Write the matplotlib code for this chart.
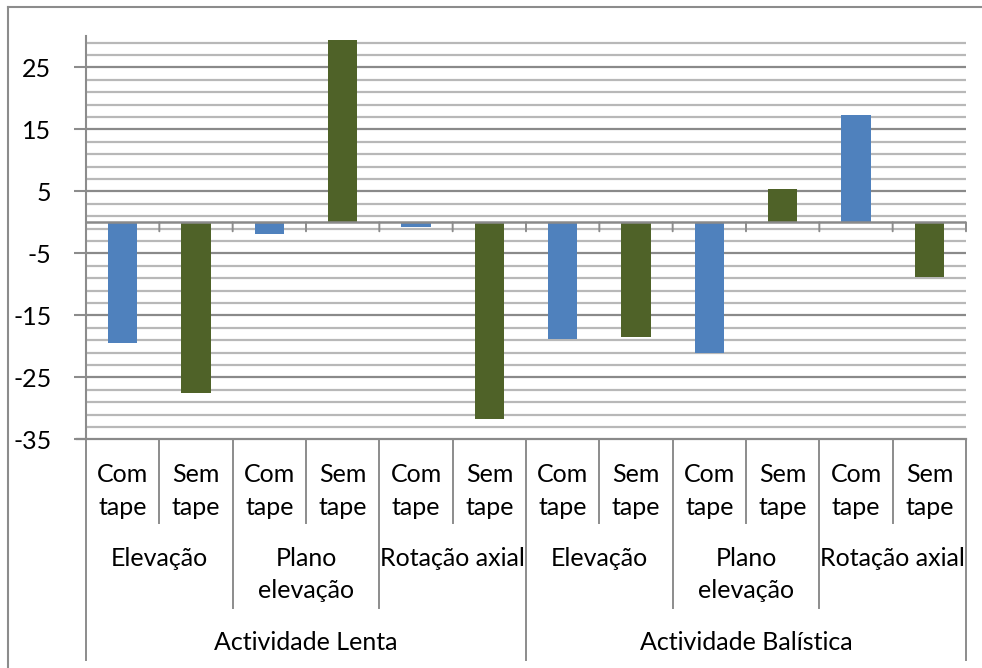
import matplotlib
matplotlib.use("Agg")
import matplotlib.pyplot as plt
from matplotlib.lines import Line2D
import matplotlib.transforms as mtransforms

plt.rcParams['font.family'] = ['Lato', 'DejaVu Sans']

# ---- data ----
activities = ["Actividade Lenta", "Actividade Balística"]
movements = [["Elevação"], ["Plano", "elevação"], ["Rotação axial"]]
conditions = [["Com", "tape"], ["Sem", "tape"]]
values = [-19.5, -27.5, -1.9, 29.4, -0.8, -31.7,
          -18.8, -18.5, -21.1, 5.4, 17.3, -8.8]
yticks = [-35, -25, -15, -5, 5, 15, 25]

BLUE = "#4f81bd"
GREEN = "#4f6228"
GRID_MAJOR = "#8a8a8a"
GRID_MINOR = "#b8b8b8"
LINE = "#8c8c8c"
FS = 18

W, H = 982, 668
fig = plt.figure(figsize=(W / 100, H / 100), dpi=100)

def fy(py):
    return 1 - py / H

def fx(px):
    return px / W

x_left, x_right, y_top, y_bot = 86, 966, 36.3, 439.3
ax = fig.add_axes([fx(x_left), fy(y_bot), fx(x_right - x_left), (y_bot - y_top) / H])

n = len(values)
ax.set_xlim(0, n)
ax.set_ylim(-35, 30)

# gridlines
for v in range(-33, 30, 2):
    ax.axhline(v, color=GRID_MINOR, lw=1.6, zorder=0)
for v in yticks[1:]:
    ax.axhline(v, color=GRID_MAJOR, lw=1.5, zorder=0.5)

# bars
cols = [BLUE if i % 2 == 0 else GREEN for i in range(n)]
ax.bar([i + 0.5 for i in range(n)], values, width=0.4, color=cols, zorder=2)

# zero line with category tick marks
ax.axhline(0, color=GRID_MAJOR, lw=1.8, zorder=3)
for i in range(1, n + 1):
    ax.annotate("", xy=(i, 0), xytext=(0, -9), textcoords='offset pixels',
                arrowprops=dict(arrowstyle='-', color=LINE, lw=1.4,
                                shrinkA=0, shrinkB=0), zorder=3)

# axes styling
for s in ["top", "right", "bottom"]:
    ax.spines[s].set_visible(False)
ax.spines["left"].set_color(LINE)
ax.spines["left"].set_linewidth(1.5)
ax.set_xticks([])
ax.set_yticks(yticks)
ax.set_yticklabels([str(t) for t in yticks], fontsize=FS)
ax.tick_params(axis='y', direction='out', length=9, width=1.5, color=LINE, pad=16)

# bottom edge of plot / top of category table
fig.add_artist(Line2D([fx(77), fx(x_right)], [fy(y_bot)] * 2, color=GRID_MAJOR, lw=1.6))

# category table separators
tr = mtransforms.blended_transform_factory(ax.transData, fig.transFigure)
for i in range(n + 1):
    if i % 6 == 0:
        yb = 660
    elif i % 2 == 0:
        yb = 608
    else:
        yb = 523
    fig.add_artist(Line2D([i, i], [fy(y_bot), fy(yb)], transform=tr, color=LINE, lw=1.4))

# category labels
for i in range(n):
    for k, word in enumerate(conditions[i % 2]):
        fig.text(i + 0.5, fy([482, 515][k]), word, transform=tr, fontsize=FS,
                 ha='center', va='baseline')
for g in range(n // 2):
    for k, word in enumerate(movements[g % 3]):
        fig.text(2 * g + 1, fy([566, 598][k]), word, transform=tr, fontsize=FS,
                 ha='center', va='baseline')
for a, name in enumerate(activities):
    fig.text(6 * a + 3, fy(650), name, transform=tr, fontsize=FS,
             ha='center', va='baseline')

# chart frame
fig.add_artist(Line2D([fx(8), fx(8)], [fy(7), 0], color=LINE, lw=1.5))
fig.add_artist(Line2D([fx(8), 1], [fy(7), fy(7)], color=LINE, lw=1.5))

fig.savefig("out.png", dpi=100)
